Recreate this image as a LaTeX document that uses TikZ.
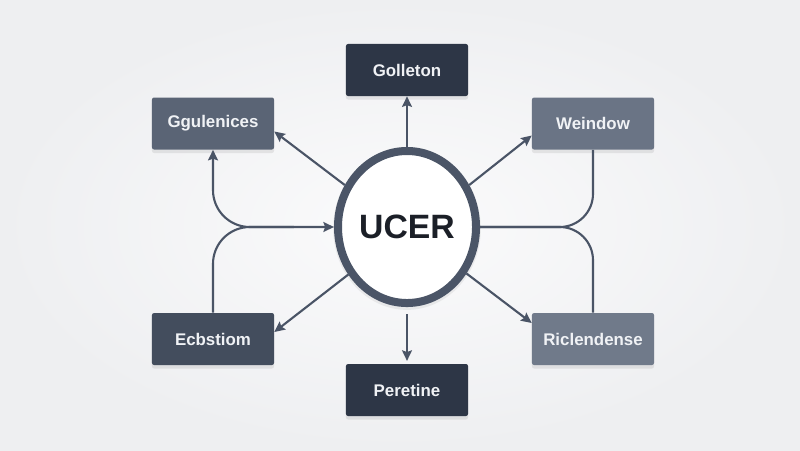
\documentclass[tikz,border=0pt]{standalone}
\usepackage{fontspec}
\setmainfont{Liberation Sans}
\usetikzlibrary{arrows.meta,shapes.geometric,shadows}

\definecolor{bgin}{HTML}{FBFBFC}
\definecolor{bgout}{HTML}{EEEFF1}
\definecolor{boxdark}{HTML}{2D3646}
\definecolor{boxmid}{HTML}{434D5D}
\definecolor{boxslate}{HTML}{5A6475}
\definecolor{boxlight}{HTML}{6A7485}
\definecolor{linkcol}{HTML}{4A5466}
\definecolor{ringcol}{HTML}{4B5567}
\definecolor{hubtext}{HTML}{1B1F27}
\definecolor{boxtext}{HTML}{F0F2F5}

\begin{document}
\begin{tikzpicture}[x=0.025cm,y=-0.025cm,
    >={Stealth[length=7.5pt,width=7pt,inset=1.2pt]},
    box/.style={rectangle,rounded corners=1.5pt,minimum width=3.05cm,minimum height=1.3cm,
      text=boxtext,font=\bfseries\fontsize{12}{14}\selectfont,
      drop shadow={opacity=0.16,shadow xshift=0pt,shadow yshift=-2.5pt}},
    hub/.style={ellipse,draw=ringcol,line width=5.7pt,fill=white,inner sep=0pt,
      minimum width=3.45cm,minimum height=3.8cm,text=hubtext,
      font=\bfseries\fontsize{24}{28}\selectfont,
      drop shadow={opacity=0.12,shadow scale=1.07,shadow xshift=0pt,shadow yshift=-1pt}},
    link/.style={draw=linkcol,line width=1.5pt,->},
    wire/.style={draw=linkcol,line width=1.5pt}]
    \useasboundingbox (0,0) rectangle (800,450);
    \shade[inner color=bgin,outer color=bgout] (0,0) rectangle (800,450);

    \node[hub] (ucer) at (407,227) {UCER};
    \node[box,fill=boxdark] (gol) at (407,70) {Golleton};
    \node[box,fill=boxslate] (ggu) at (213,123.5) {Ggulenices};
    \node[box,fill=boxlight] (wei) at (593,123.5) {Weindow};
    \node[box,fill=boxmid] (ecb) at (213,339) {Ecbstiom};
    \node[box,fill=boxlight!96!white] (ric) at (593,339) {Riclendense};
    \node[box,fill=boxdark] (per) at (407,390) {Peretine};

    \draw[link] (ucer.north) -- (gol.south);
    \draw[link,shorten <=5pt,shorten >=2pt] (ucer.south) -- (per.north);
    \draw[link] (ucer.146) -- ([yshift=-2mm]ggu.east);
    \draw[link] (ucer.34) -- ([yshift=-3mm]wei.west);
    \draw[link] (ucer.219) -- ([yshift=1.75mm]ecb.east);
    \draw[link] (ucer.322) -- ([yshift=4mm]ric.west);

    \draw[link,<->,rounded corners=0.92cm] (ucer.west) -| (ggu.south);
    \draw[wire,rounded corners=0.92cm] (ecb.north) |- ([xshift=-1cm]ucer.west);
    \draw[wire,rounded corners=0.83cm] (ucer.east) -| (wei.south);
    \draw[wire,rounded corners=0.83cm] (ucer.east) -| (ric.north);
\end{tikzpicture}
\end{document}
